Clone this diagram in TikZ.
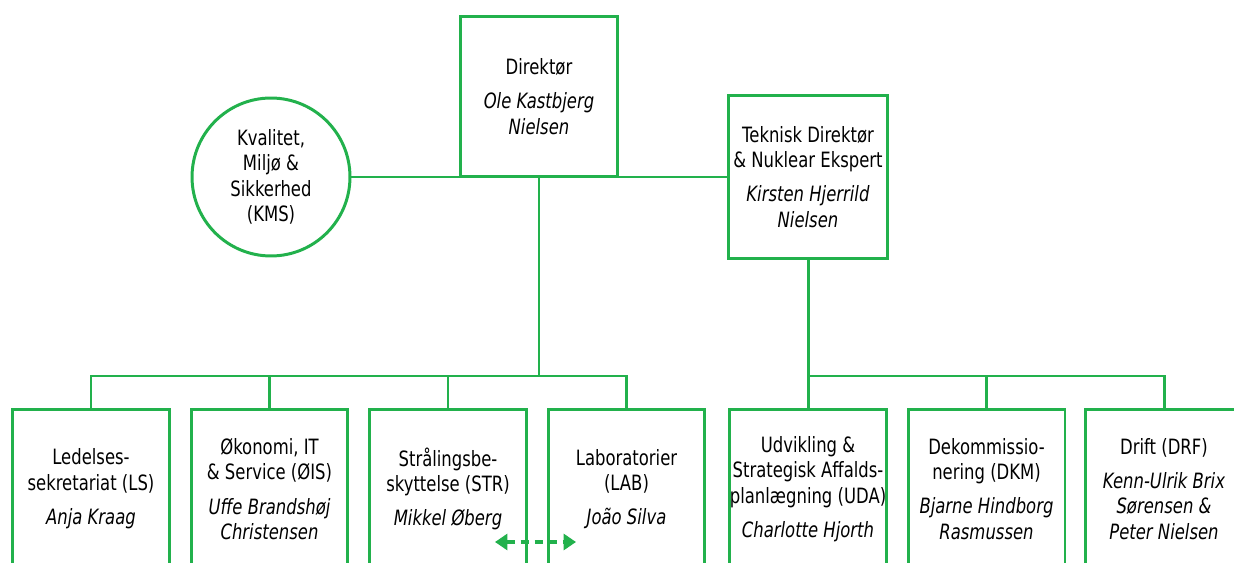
\documentclass[tikz,border=0pt]{standalone}
\usepackage{fontspec}
\newfontfamily\orgfont[FakeStretch=0.78]{DejaVu Sans}
\usepackage{tikz}
\usetikzlibrary{arrows.meta}
\definecolor{orggreen}{RGB}{34,177,76}
\tikzset{
	unit/.style={draw=orggreen, line width=1.7pt, fill=white, align=center, inner sep=0pt,
		minimum width=3.14cm, font=\orgfont\fontsize{12}{14.5}\selectfont},
	staff/.style={unit, circle, minimum size=3.16cm},
	link/.style={draw=orggreen, line width=1.7pt},
	dasharrow/.style={link, line width=2.3pt, dash pattern=on 5pt off 3pt,
		{Triangle[length=7pt,width=9pt]}-{Triangle[length=7pt,width=9pt]}}
}
\begin{document}
\begin{tikzpicture}[x=0.02cm,y=-0.02cm]
	\useasboundingbox (0,0) rectangle (1234,563);
	\clip (0,0) rectangle (1234,563);

	\def\rowy{489}
	\def\busy{376}

	\node[unit, minimum height=3.22cm] (dir) at (539,96.5)
		{Direktør\\[5pt]\textit{Ole Kastbjerg}\\\textit{Nielsen}};
	\node[staff] (kms) at (271,177) {Kvalitet,\\Miljø \&\\Sikkerhed\\(KMS)};
	\node[unit, minimum width=3.18cm, minimum height=3.28cm] (tek) at (808,177)
		{Teknisk Direktør\\\& Nuklear Ekspert\\[5pt]\textit{Kirsten Hjerrild}\\\textit{Nielsen}};

	\foreach \x/\n/\txt in {
		91/ls/{Ledelses-\\sekretariat (LS)\\[5pt]\textit{Anja Kraag}},
		269.5/ois/{Økonomi, IT\\\& Service (ØIS)\\[5pt]\textit{Uffe Brandshøj}\\\textit{Christensen}},
		448/str/{Strålingsbe-\\skyttelse (STR)\\[5pt]\textit{Mikkel Øberg}},
		626.5/lab/{Laboratorier\\(LAB)\\[5pt]\textit{João Silva}},
		808/uda/{Udvikling \&\\Strategisk Affalds-\\planlægning (UDA)\\[5pt]\textit{Charlotte Hjorth}},
		986.5/dkm/{Dekommissio-\\nering (DKM)\\[5pt]\textit{Bjarne Hindborg}\\\textit{Rasmussen}},
		1164/drf/{Drift (DRF)\\[5pt]\textit{Kenn-Ulrik Brix}\\\textit{Sørensen \&}\\\textit{Peter Nielsen}}} {
		\node[unit, minimum height=3.2cm] (\n) at (\x,\rowy) {\txt};
	}

	\coordinate (busl) at (539,\busy);
	\coordinate (busr) at (808,\busy);
	\draw[link] (kms.east) -- (tek.west);
	\draw[link] (dir.south) -- (busl);
	\draw[link] (tek.south) -- (busr);
	\foreach \n in {ls,ois,str,lab}
		\draw[link] (busl) -| (\n.north);
	\foreach \n in {uda,dkm,drf}
		\draw[link] (busr) -| (\n.north);

	\coordinate (strarr) at (495,542);
	\coordinate (labarr) at (576,542);
	\draw[dasharrow] (strarr) -- (labarr);

\end{tikzpicture}
\end{document}
